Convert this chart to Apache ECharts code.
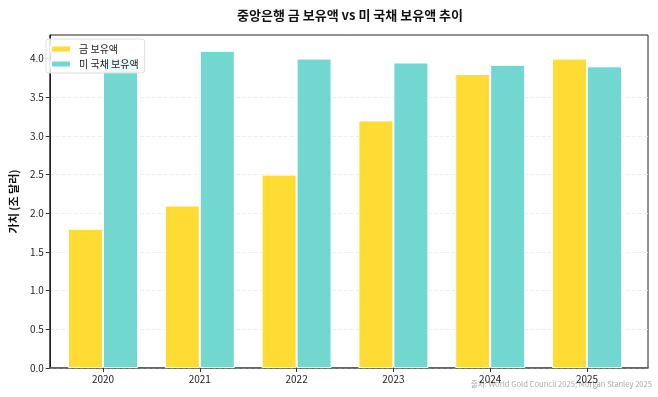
<!DOCTYPE html>
<html>
<head>
<meta charset="utf-8">
<script src="https://cdn.jsdelivr.net/npm/echarts@6/dist/echarts.min.js"></script>
<style>
  html, body { margin: 0; padding: 0; background: #fff; }
  #chart { width: 658px; height: 397px; }
</style>
</head>
<body>
<div id="chart"></div>
<script>
  // 연도별 데이터 (조 달러)
  var years = ['2020', '2021', '2022', '2023', '2024', '2025'];
  var goldReserves = [1.8, 2.1, 2.5, 3.2, 3.8, 4.0];
  var treasuryHoldings = [4.0, 4.1, 4.0, 3.95, 3.92, 3.9];
  var yTicks = [0, 0.5, 1.0, 1.5, 2.0, 2.5, 3.0, 3.5, 4.0];

  var font = '"Noto Sans CJK KR", "Noto Sans", sans-serif';
  var yMax = 4.305;

  var chart = echarts.init(document.getElementById('chart'));
  chart.setOption({
    animation: false,
    textStyle: { fontFamily: font },
    title: {
      text: '중앙은행 금 보유액 vs 미 국채 보유액 추이',
      left: 345,
      textAlign: 'center',
      top: 4,
      textStyle: { fontSize: 13, fontWeight: 'bold', color: '#111', fontFamily: font }
    },
    legend: {
      left: 46,
      top: 39,
      orient: 'vertical',
      itemWidth: 20,
      itemHeight: 7,
      itemGap: 5,
      padding: [5, 6, 4, 4],
      borderColor: '#ddd',
      borderWidth: 1,
      borderRadius: 3,
      backgroundColor: 'rgba(255,255,255,0.85)',
      textStyle: { fontSize: 10, color: '#222', fontFamily: font, padding: [0, 0, 0, 3] },
      data: ['금 보유액', '미 국채 보유액']
    },
    graphic: [{
      type: 'text',
      right: 6,
      top: 380,
      style: {
        text: '출처: World Gold Council 2025; Morgan Stanley 2025',
        fontSize: 7.6,
        fill: '#aaa',
        fontFamily: font
      }
    }],
    grid: [
      { left: 41, right: 10, top: 35, bottom: 29, show: true, borderColor: '#222', borderWidth: 1 },
      { left: 54.6, right: 22.6, top: 35, bottom: 29 }
    ],
    xAxis: [
      {
        type: 'category', gridIndex: 0, data: years,
        axisLine: { show: true, onZero: false, lineStyle: { color: '#555', width: 1.5 } },
        axisTick: { show: false }, axisLabel: { show: false }, splitLine: { show: false }
      },
      {
        type: 'category', gridIndex: 1, data: years,
        axisLine: { show: false },
        axisTick: { show: true, alignWithLabel: true, length: 4, lineStyle: { color: '#333' } },
        axisLabel: { fontSize: 10, color: '#222', margin: 6 }
      }
    ],
    yAxis: [
      {
        type: 'value', gridIndex: 0, min: 0, max: yMax,
        name: '가치 (조 달러)',
        nameLocation: 'middle',
        nameGap: 27,
        nameTextStyle: { fontSize: 11, fontWeight: 'bold', color: '#111' },
        axisLine: { show: true, onZero: false, lineStyle: { color: '#222', width: 1 } },
        axisTick: { show: true, length: 4, customValues: yTicks, lineStyle: { color: '#333' } },
        axisLabel: {
          fontSize: 10, color: '#222', margin: 6, customValues: yTicks,
          formatter: function (v) { return v.toFixed(1); }
        },
        splitLine: { show: true, showMaxLine: false, lineStyle: { color: '#eee', type: 'dashed', width: 1 } }
      },
      { type: 'value', gridIndex: 1, min: 0, max: yMax, show: false, splitLine: { show: false } }
    ],
    series: [
      {
        name: '금 보유액', type: 'bar', xAxisIndex: 1, yAxisIndex: 1,
        data: goldReserves,
        barWidth: 35, barGap: '0%',
        itemStyle: { color: '#FEDC33', borderColor: '#fff', borderWidth: 1 }
      },
      {
        name: '미 국채 보유액', type: 'bar', xAxisIndex: 1, yAxisIndex: 1,
        data: treasuryHoldings,
        barWidth: 35, barGap: '0%',
        itemStyle: { color: '#72D7CF', borderColor: '#fff', borderWidth: 1 }
      }
    ]
  });
</script>
</body>
</html>
